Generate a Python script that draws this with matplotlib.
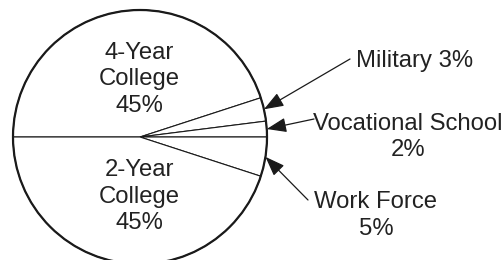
import numpy as np
import matplotlib
matplotlib.use("Agg")
import matplotlib.pyplot as plt
from matplotlib.patches import Circle

plt.rcParams['font.family'] = ['Liberation Sans', 'DejaVu Sans']

categories = ["4-Year\nCollege", "Military", "Vocational School", "Work Force", "2-Year\nCollege"]
values = [45, 3, 2, 5, 45]

W, H = 503, 260
fig = plt.figure(figsize=(W / 100, H / 100), dpi=100)
ax = fig.add_axes([0, 0, 1, 1])

R = 127.0
cx, cy = 140.0, 137.0
def px(x, y):
    return ((x - cx) / R, (cy - y) / R)

wedges, _ = ax.pie(values, startangle=180, counterclock=False, radius=1,
                   colors=['white'] * len(values),
                   wedgeprops=dict(edgecolor='#1a1a1a', linewidth=0.8))
ax.add_patch(Circle((0, 0), 1, fill=False, edgecolor='#1a1a1a', linewidth=1.6, zorder=5))

fs = 17.2
tc = '#222222'
ls = 1.24
# inside labels
ax.text(*px(139, 79.5), f"{categories[0]}\n{values[0]}%", ha='center', va='center',
        fontsize=fs, color=tc, linespacing=ls)
ax.text(*px(139, 196.5), f"{categories[4]}\n{values[4]}%", ha='center', va='center',
        fontsize=fs, color=tc, linespacing=ls)

# outside labels
ax.text(*px(356, 61), f"{categories[1]} {values[1]}%", ha='left', va='center',
        fontsize=fs, color=tc)
ax.text(*px(408, 137), f"{categories[2]}\n{values[2]}%", ha='center', va='center',
        fontsize=fs, color=tc, linespacing=ls)
ax.text(*px(376, 215.5), f"{categories[3]}\n{values[3]}%", ha='center', va='center',
        fontsize=fs, color=tc, linespacing=ls)

# arrows pointing to the middle of each small wedge at the rim
tails = {1: px(350, 59), 2: px(314, 119), 3: px(308, 200)}
for i, tail in tails.items():
    w = wedges[i]
    mid = np.deg2rad((w.theta1 + w.theta2) / 2)
    tip = (np.cos(mid), np.sin(mid))
    ax.annotate('', xy=tip, xytext=tail,
                arrowprops=dict(arrowstyle='-|>,head_length=0.7,head_width=0.26',
                                color='#1a1a1a', lw=0.9, shrinkA=0, shrinkB=0,
                                mutation_scale=fs), zorder=6)

ax.set_xlim(-cx / R, (W - cx) / R)
ax.set_ylim(-(H - cy) / R, cy / R)
ax.set_aspect('auto')
ax.axis('off')

fig.savefig("out.png", dpi=100)
